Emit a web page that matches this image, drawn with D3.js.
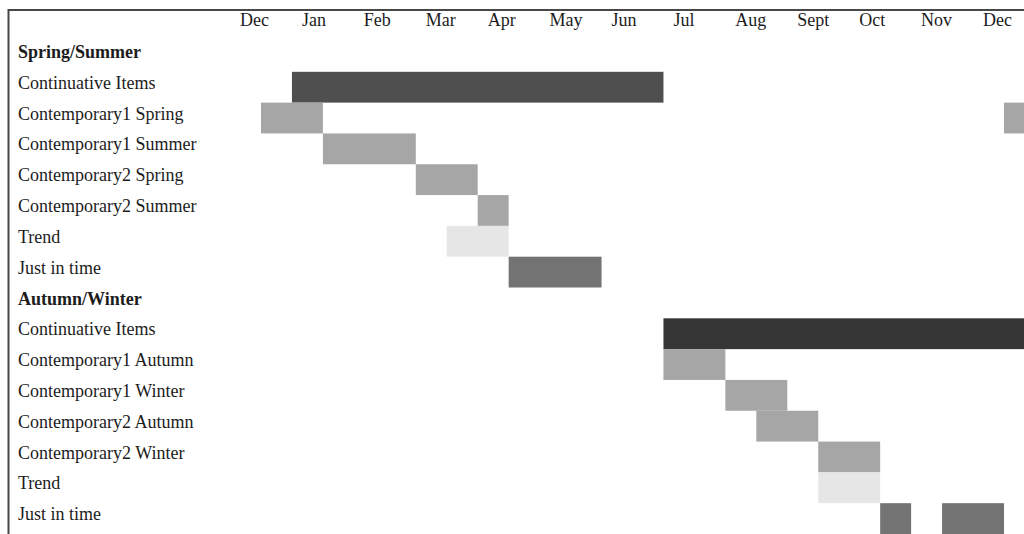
<!DOCTYPE html>
<html>
<head>
<meta charset="utf-8">
<script src="https://cdn.jsdelivr.net/npm/d3@7"></script>
<style>
  html, body { margin: 0; padding: 0; background: #fff; overflow: hidden; }
  svg { display: block; }
  text { font-family: "Liberation Serif", "DejaVu Serif", serif; fill: #1c1c1c; }
</style>
</head>
<body>
<svg id="chart" width="1024" height="534"></svg>
<script>
// Season plan: one row per line item, months from December to December.
const months = ["Dec", "Jan", "Feb", "Mar", "Apr", "May", "Jun", "Jul", "Aug", "Sept", "Oct", "Nov", "Dec"];

const rowLabels = [
  "Spring/Summer",
  "Continuative Items",
  "Contemporary1 Spring",
  "Contemporary1 Summer",
  "Contemporary2 Spring",
  "Contemporary2 Summer",
  "Trend",
  "Just in time",
  "Autumn/Winter",
  "Continuative Items",
  "Contemporary1 Autumn",
  "Contemporary1 Winter",
  "Contemporary2 Autumn",
  "Contemporary2 Winter",
  "Trend",
  "Just in time"
];
const sectionRows = [0, 8];

// Bars: row index, start / end in months counted from the first December
const barRow   = [1,   2,  2,  3,   4,   5,   6,   7,   9,   10,  11,  12,  13,  14,  15,   15];
const barStart = [0.5, 0,  12, 1,   2.5, 3.5, 3,   4,   6.5, 6.5, 7.5, 8,   9,   9,   10,   11];
const barEnd   = [6.5, 1,  13, 2.5, 3.5, 4,   4,   5.5, 13,  7.5, 8.5, 9,   10,  10,  10.5, 12];
const barKind  = ["coreSS", "contemporary", "contemporary", "contemporary", "contemporary", "contemporary",
                  "trend", "jit", "coreAW", "contemporary", "contemporary", "contemporary", "contemporary",
                  "trend", "jit", "jit"];

const kinds  = ["coreSS", "coreAW", "contemporary", "trend", "jit"];
const shades = ["#4f4f4f", "#363636", "#a6a6a6", "#e6e6e6", "#737373"];

const W = 1024, H = 534;
const svg = d3.select("#chart");

const x = d3.scaleLinear().domain([0, 12]).range([261, 1004]);
const y = d3.scaleBand().domain(d3.range(rowLabels.length)).range([41, 534]).paddingInner(0);
const color = d3.scaleOrdinal().domain(kinds).range(shades);

const bars = barRow.map((r, i) => ({ row: r, start: barStart[i], end: barEnd[i], kind: barKind[i] }));

// bars
svg.append("g")
  .selectAll("rect")
  .data(bars)
  .join("rect")
  .attr("x", d => x(d.start))
  .attr("y", d => y(d.row))
  .attr("width", d => x(d.end) - x(d.start))
  .attr("height", y.bandwidth())
  .attr("fill", d => color(d.kind));

// month header, left-aligned just before each month mark
svg.append("g")
  .selectAll("text")
  .data(months)
  .join("text")
  .attr("x", (d, i) => x(i) - 21)
  .attr("y", 26)
  .attr("font-size", 18)
  .text(d => d);

// row labels
svg.append("g")
  .selectAll("text")
  .data(rowLabels)
  .join("text")
  .attr("x", 18)
  .attr("y", (d, i) => y(i) + 17)
  .attr("font-size", 18)
  .attr("font-weight", (d, i) => sectionRows.includes(i) ? "bold" : "normal")
  .text(d => d);

// frame: top and left rules
svg.append("line")
  .attr("x1", 8).attr("x2", W).attr("y1", 10).attr("y2", 10)
  .attr("stroke", "#474747").attr("stroke-width", 2);
svg.append("line")
  .attr("x1", 8.5).attr("x2", 8.5).attr("y1", 9).attr("y2", H)
  .attr("stroke", "#474747").attr("stroke-width", 2);
</script>
</body>
</html>
